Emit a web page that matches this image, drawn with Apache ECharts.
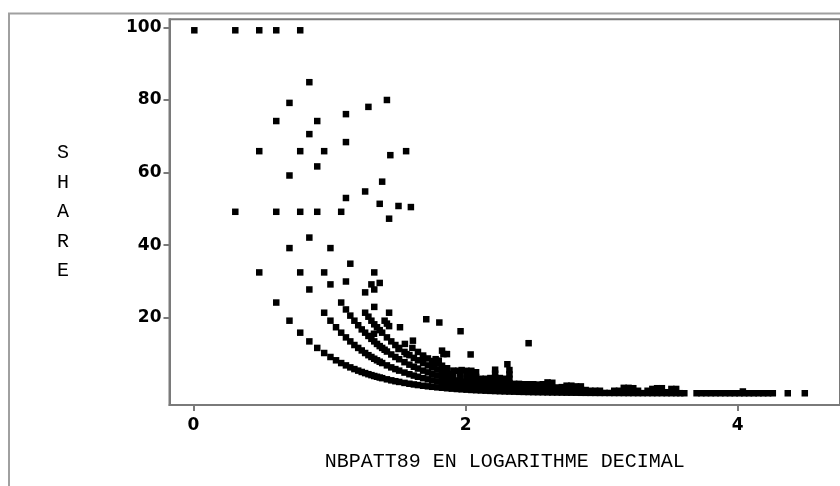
<!DOCTYPE html>
<html>
<head>
<meta charset="utf-8">
<script src="https://cdn.jsdelivr.net/npm/echarts@6/dist/echarts.min.js"></script>
<style>
  html, body { margin: 0; padding: 0; background: #fff; }
  #chart { width: 840px; height: 486px; }
</style>
</head>
<body>
<div id="chart"></div>
<script>
// tick values
const xTicks = [0, 2, 4];
const yTicks = [20, 40, 60, 80, 100];

// isolated points in the upper part of the plot [log10 nbpatt, share]
const sparsePoints = [
  [0, 100], [0.301, 100], [0.477, 100], [0.602, 100], [0.778, 100],
  [0.845, 85.7], [0.699, 80], [0.602, 75], [0.903, 75], [1.114, 76.9], [1.279, 78.9], [1.415, 80.8],
  [0.845, 71.4], [1.114, 69.2], [0.477, 66.7], [0.778, 66.7], [0.954, 66.7], [1.44, 65.6], [1.556, 66.7],
  [0.699, 60], [0.903, 62.5], [1.38, 58.3], [1.255, 55.6], [1.114, 53.8], [1.362, 52.2], [1.5, 51.6], [1.591, 51.3],
  [0.301, 50], [0.602, 50], [0.778, 50], [0.903, 50], [1.079, 50], [1.431, 48.1],
  [0.845, 42.9], [0.699, 40], [1, 40], [1.146, 35.7],
  [0.477, 33.3], [0.778, 33.3], [0.954, 33.3], [1.322, 33.3], [1.114, 30.8], [1, 30],
  [1.301, 30], [1.362, 30.4], [1.322, 28.6], [1.255, 27.8], [0.845, 28.6],
  [0.602, 25], [1.322, 23.8], [1.431, 22.2], [1.398, 20], [1.415, 19.2], [1.431, 18.5], [1.511, 18.2],
  [1.32, 16.4], [1.704, 20.4], [1.8, 19.5], [1.956, 17.1], [1.606, 14.5], [1.547, 13.6], [1.5, 12.2],
  [1.559, 10.8], [1.68, 9.9], [1.76, 8.1], [1.773, 9.4], [1.796, 9], [1.82, 11.75], [1.83, 10.8],
  [1.856, 10.8], [1.868, 5.3], [2.03, 10.7], [2.456, 13.8], [1.964, 6.4], [2, 6.2], [1.94, 6.2]
];

// the lowest arc (one pattern out of n)
const curveOne = [
  [0.699, 20], [0.778, 16.7], [0.845, 14.3], [0.903, 12.5], [0.954, 11.1], [1, 10], [1.041, 9.09],
  [1.079, 8.33], [1.114, 7.69], [1.146, 7.14], [1.176, 6.67], [1.204, 6.25], [1.23, 5.88], [1.255, 5.56],
  [1.279, 5.26], [1.301, 5], [1.322, 4.76], [1.342, 4.55], [1.362, 4.35], [1.38, 4.17], [1.415, 3.85],
  [1.447, 3.57], [1.477, 3.33], [1.505, 3.13], [1.544, 2.86], [1.58, 2.63], [1.613, 2.44], [1.643, 2.27],
  [1.681, 2.08], [1.716, 1.92], [1.748, 1.79], [1.785, 1.64], [1.82, 1.52], [1.857, 1.39], [1.892, 1.28],
  [1.929, 1.18], [1.964, 1.09], [2, 1]
];

const curveTwo = [
  [0.954, 22.2], [1, 20], [1.041, 18.2], [1.079, 16.7], [1.114, 15.4], [1.146, 14.3], [1.176, 13.3],
  [1.204, 12.5], [1.23, 11.8], [1.255, 11.1], [1.279, 10.5], [1.301, 10], [1.322, 9.52], [1.342, 9.09],
  [1.362, 8.7], [1.38, 8.33], [1.415, 7.69], [1.447, 7.14], [1.477, 6.67], [1.505, 6.25], [1.544, 5.71],
  [1.58, 5.26], [1.613, 4.88], [1.643, 4.55], [1.681, 4.17], [1.716, 3.85], [1.748, 3.57], [1.785, 3.28],
  [1.82, 3.03], [1.857, 2.78], [1.892, 2.56], [1.929, 2.35], [1.964, 2.17], [2, 2]
];

const curveThree = [
  [1.079, 25], [1.114, 23.1], [1.146, 21.4], [1.176, 20], [1.204, 18.75], [1.23, 17.6], [1.255, 16.7],
  [1.279, 15.8], [1.301, 15], [1.322, 14.3], [1.342, 13.6], [1.362, 13], [1.38, 12.5], [1.398, 12],
  [1.415, 11.5], [1.447, 10.7], [1.477, 10], [1.505, 9.38], [1.544, 8.57], [1.58, 7.89], [1.613, 7.32],
  [1.643, 6.82], [1.681, 6.25], [1.716, 5.77], [1.748, 5.36], [1.785, 4.92], [1.82, 4.55], [1.857, 4.17],
  [1.892, 3.85], [1.929, 3.53], [1.964, 3.26], [2, 3]
];

const curveFour = [
  [1.255, 22.2], [1.279, 21.1], [1.301, 20], [1.322, 19], [1.342, 18.2], [1.362, 17.4], [1.38, 16.7],
  [1.415, 15.4], [1.447, 14.3], [1.477, 13.3], [1.505, 12.5], [1.544, 11.4], [1.58, 10.5], [1.613, 9.76],
  [1.643, 9.09], [1.681, 8.33], [1.716, 7.69], [1.748, 7.14], [1.785, 6.56], [1.82, 6.06], [1.857, 5.56],
  [1.903, 5], [1.954, 4.44], [2, 4]
];

const curveFive = [
  [1.602, 12.5], [1.643, 11.4], [1.681, 10.4], [1.716, 9.6], [1.748, 8.9], [1.785, 8.2], [1.82, 7.6],
  [1.857, 6.9], [1.903, 6.25], [1.954, 5.56], [2, 5]
];

// dense strip along the bottom
const lowBand = [
  [2.035, 0.92], [2.035, 2.2], [2.035, 3.5], [2.035, 4.8], [2.035, 6.2],
  [2.07, 0.85], [2.07, 2.1], [2.07, 3.3], [2.07, 4.5], [2.07, 5.8],
  [2.105, 0.79], [2.105, 2], [2.105, 3.2], [2.105, 4],
  [2.14, 0.72], [2.14, 1.9], [2.14, 3], [2.14, 4],
  [2.175, 0.67], [2.175, 1.8], [2.175, 3], [2.175, 4.2],
  [2.21, 0.62], [2.21, 1.8], [2.21, 3], [2.21, 4.3], [2.21, 5.4], [2.21, 6.5],
  [2.245, 0.57], [2.245, 1.7], [2.245, 2.9], [2.245, 4.2],
  [2.28, 0.52], [2.28, 1.6], [2.28, 2.8], [2.28, 4],
  [2.315, 0.48], [2.315, 1.6], [2.315, 2.8], [2.315, 4], [2.315, 5.2], [2.315, 6.4], [2.3, 8],
  [2.35, 0.45], [2.35, 1.5], [2.35, 2.6],
  [2.385, 0.41], [2.385, 1.5], [2.385, 2.6],
  [2.42, 0.38], [2.42, 1.4], [2.42, 2.5],
  [2.455, 0.35], [2.455, 1.4], [2.455, 2.5],
  [2.49, 0.32], [2.49, 1.4], [2.49, 2.5],
  [2.525, 0.3], [2.525, 1.3], [2.525, 2.4],
  [2.56, 0.28], [2.56, 1.3], [2.56, 2.5],
  [2.595, 0.25], [2.595, 1.5], [2.595, 3],
  [2.63, 0.23], [2.63, 1.5], [2.63, 2.9],
  [2.665, 0.22], [2.665, 1.6],
  [2.7, 0.2], [2.7, 1.7],
  [2.735, 0.18], [2.735, 1.2], [2.735, 2.1],
  [2.77, 0.17], [2.77, 1.2], [2.77, 2.1],
  [2.805, 0.16], [2.805, 1.1], [2.805, 1.9],
  [2.84, 0.14], [2.84, 1], [2.84, 1.9],
  [2.875, 0.13], [2.875, 0.9],
  [2.91, 0.12], [2.91, 0.7],
  [2.945, 0.11], [2.945, 0.7],
  [2.98, 0.1], [2.98, 0.7],
  [3.015, 0.1], [3.05, 0.09],
  [3.085, 0.08], [3.085, 0.7],
  [3.12, 0.08], [3.12, 0.7],
  [3.155, 0.07], [3.155, 1.5],
  [3.19, 0.06], [3.19, 1.5],
  [3.225, 0.06], [3.225, 1.4],
  [3.26, 0.05], [3.26, 0.7],
  [3.295, 0.05],
  [3.33, 0.05], [3.33, 0.7],
  [3.365, 0.04], [3.365, 1.2],
  [3.4, 0.04], [3.4, 1.4],
  [3.435, 0.04], [3.435, 1.4],
  [3.47, 0.03], [3.47, 0.3],
  [3.505, 0.03], [3.505, 1.2],
  [3.54, 0.03], [3.54, 1.2],
  [3.57, 0.03], [3.6, 0.02],
  [3.69, 0.02], [3.725, 0.02], [3.76, 0.02], [3.795, 0.02], [3.83, 0.02], [3.865, 0.02],
  [3.9, 0.02], [3.935, 0.01], [3.97, 0.01], [4.005, 0.01], [4.03, 0.5], [4.04, 0.01],
  [4.075, 0.01], [4.11, 0.01], [4.145, 0.01], [4.18, 0.01], [4.215, 0.01], [4.25, 0.01],
  [4.36, 0.01], [4.485, 0.01]
];

const axisGray = '#7a7a7a';
const allPoints = [].concat(sparsePoints, curveOne, curveTwo, curveThree, curveFour, curveFive, lowBand);

const myChart = echarts.init(document.getElementById('chart'));
const option = {
  animation: false,
  backgroundColor: '#fff',
  grid: {
    left: 169.5, top: 19.3, width: 690, height: 385.7,
    show: true, borderColor: axisGray, borderWidth: 2, backgroundColor: 'transparent'
  },
  xAxis: {
    type: 'value',
    min: -0.175,
    max: 4.751,
    splitLine: { show: false },
    axisLine: { show: true, onZero: false, lineStyle: { color: axisGray, width: 2 } },
    axisTick: { show: true, customValues: xTicks, length: 6, lineStyle: { color: axisGray, width: 2 } },
    axisLabel: {
      customValues: xTicks, margin: 12, color: '#000',
      fontFamily: 'DejaVu Sans', fontWeight: 'bold', fontSize: 17
    },
    name: 'NBPATT89 EN LOGARITHME DECIMAL',
    nameLocation: 'middle',
    nameGap: 57,
    nameTextStyle: {
      fontFamily: 'Liberation Mono', fontSize: 20, color: '#000',
      verticalAlign: 'middle'
    }
  },
  yAxis: {
    type: 'value',
    min: -4.05,
    max: 102.2,
    splitLine: { show: false },
    axisLine: { show: true, onZero: false, lineStyle: { color: axisGray, width: 2 } },
    axisTick: { show: true, customValues: yTicks, length: 6, lineStyle: { color: axisGray, width: 2 } },
    axisLabel: {
      customValues: yTicks, margin: 8, color: '#000',
      fontFamily: 'DejaVu Sans', fontWeight: 'bold', fontSize: 17
    },
    name: 'S\nH\nA\nR\nE',
    nameLocation: 'middle',
    nameRotate: 0,
    nameGap: 106.5,
    nameTextStyle: {
      fontFamily: 'Liberation Mono', fontSize: 20, color: '#000',
      lineHeight: 29.5, align: 'center', verticalAlign: 'middle'
    }
  },
  graphic: [
    {
      type: 'rect',
      silent: true,
      z: -10,
      shape: { x: 9, y: 13.5, width: 900, height: 500 },
      style: { fill: null, stroke: '#a0a0a0', lineWidth: 2 }
    }
  ],
  series: [
    {
      type: 'scatter',
      data: allPoints,
      symbol: 'rect',
      symbolSize: 6.5,
      symbolOffset: [1, 3],
      itemStyle: { color: '#000', opacity: 1 },
      silent: true
    }
  ]
};
myChart.setOption(option);
</script>
</body>
</html>
